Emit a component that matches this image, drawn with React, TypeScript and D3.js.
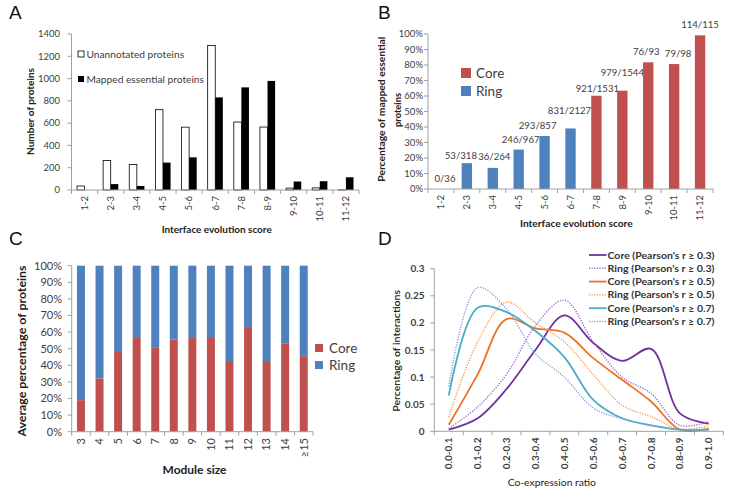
import React from "react";
import * as d3 from "d3";

// ---------- DATA ----------
const scoreCats = ["1-2", "2-3", "3-4", "4-5", "5-6", "6-7", "7-8", "8-9", "9-10", "10-11", "11-12"];
const unannotated = [36, 265, 228, 721, 564, 1296, 610, 565, 17, 19, 1];
const essentialMapped = [0, 53, 36, 246, 293, 831, 921, 979, 76, 79, 114];
const mappedTotal = [36, 318, 264, 967, 857, 2127, 1531, 1544, 93, 98, 115];
const scoreClass = ["Ring", "Ring", "Ring", "Ring", "Ring", "Ring", "Core", "Core", "Core", "Core", "Core"];
const aTicks = [0, 200, 400, 600, 800, 1000, 1200, 1400];
const pctTicks = [0, 0.1, 0.2, 0.3, 0.4, 0.5, 0.6, 0.7, 0.8, 0.9, 1];

const moduleSizes = ["3", "4", "5", "6", "7", "8", "9", "10", "11", "12", "13", "14", "≥15"];
const coreShare = [0.19, 0.32, 0.48, 0.57, 0.505, 0.555, 0.57, 0.57, 0.42, 0.625, 0.42, 0.53, 0.455];

const coexCats = ["0.0-0.1", "0.1-0.2", "0.2-0.3", "0.3-0.4", "0.4-0.5", "0.5-0.6", "0.6-0.7", "0.7-0.8", "0.8-0.9", "0.9-1.0"];
const core03 = [0.003, 0.024, 0.078, 0.15, 0.214, 0.163, 0.13, 0.152, 0.033, 0.014];
const ring03 = [0.005, 0.045, 0.105, 0.195, 0.242, 0.165, 0.1, 0.07, 0.011, 0.018];
const core05 = [0.012, 0.105, 0.207, 0.19, 0.182, 0.135, 0.095, 0.055, 0.003, 0.005];
const ring05 = [0.026, 0.165, 0.238, 0.2, 0.165, 0.105, 0.048, 0.027, 0.004, 0.01];
const core07 = [0.066, 0.228, 0.22, 0.185, 0.137, 0.058, 0.024, 0.011, 0.003, 0.003];
const ring07 = [0.083, 0.265, 0.226, 0.143, 0.1, 0.043, 0.023, 0.011, 0.003, 0.003];
const dTicks = [0, 0.05, 0.1, 0.15, 0.2, 0.25, 0.3];
const dSeriesNames = [
  "Core (Pearson's r ≥ 0.3)",
  "Ring (Pearson's r ≥ 0.3)",
  "Core (Pearson's r ≥ 0.5)",
  "Ring (Pearson's r ≥ 0.5)",
  "Core (Pearson's r ≥ 0.7)",
  "Ring (Pearson's r ≥ 0.7)",
];
const dSeries = [core03, ring03, core05, ring05, core07, ring07];

// ---------- STYLE ----------
const FONT = "Lato, 'Open Sans', sans-serif";
const TXT = "#404040";
const AX = "#A0A0A0";
const RED = "#C0504D";
const BLUE = "#4F81BD";
const dColors = ["#7030A0", "#9966CC", "#F07122", "#F79646", "#4BACC6", "#7F9FD0"];
const dDashed = [false, true, false, true, false, true];
// placement nudges of the B data labels (layout only)
const labelLift = [0, -3, 1, 0, 0, 7, -3, 8, 0, 0, 0];
const labelShift = [4, -6, 1.5, 2, -7, -1, 1, 0, -2, 4, 0];

const pctFmt = d3.format(".0%");

function YAxis({ scale, ticks, x, fmt, labelX, size, weight }: any) {
  const [r0, r1] = scale.range();
  return (
    <g>
      <line x1={x} x2={x} y1={r0} y2={r1} stroke={AX} strokeWidth={1} />
      {ticks.map((t: number) => (
        <g key={t}>
          <line x1={x - 4} x2={x} y1={scale(t)} y2={scale(t)} stroke={AX} />
          <text x={labelX} y={scale(t)} dy="0.35em" textAnchor="end" fontSize={size} fontWeight={weight || 400} fill={TXT}>
            {fmt(t)}
          </text>
        </g>
      ))}
    </g>
  );
}

function XAxisBand({ scale, y, labelY, size, weight }: any) {
  const [r0, r1] = scale.range();
  const bw = scale.step();
  const dom = scale.domain();
  return (
    <g>
      <line x1={r0} x2={r1} y1={y} y2={y} stroke={AX} />
      {d3.range(dom.length + 1).map((i) => (
        <line key={i} x1={r0 + i * bw} x2={r0 + i * bw} y1={y} y2={y + 4} stroke={AX} />
      ))}
      {dom.map((c: string) => {
        const cx = (scale(c) as number) + scale.bandwidth() / 2;
        return (
          <text key={c} transform={`translate(${cx},${labelY}) rotate(-90)`} dy="0.35em" textAnchor="end" fontSize={size} fontWeight={weight || 400} fill={TXT}>
            {c}
          </text>
        );
      })}
    </g>
  );
}

function Title({ x, y, rot, len, size, weight, children }: any) {
  return (
    <text
      transform={`translate(${x},${y})${rot ? " rotate(-90)" : ""}`}
      dy="0.35em"
      textAnchor="middle"
      fontSize={size}
      fontWeight={weight}
      fill="#222"
      textLength={len}
      lengthAdjust="spacingAndGlyphs"
    >
      {children}
    </text>
  );
}

function PanelA() {
  const y = d3.scaleLinear().domain([0, 1400]).range([190, 34]);
  const x = d3.scaleBand().domain(scoreCats).range([71.5, 359]);
  const bw = x.bandwidth() * 0.29;
  return (
    <g>
      {scoreCats.map((c, i) => {
        const cx = (x(c) as number) + x.bandwidth() / 2;
        return (
          <g key={c}>
            <rect x={cx - bw} y={y(unannotated[i])} width={bw} height={190 - y(unannotated[i])} fill="#fff" stroke="#000" strokeWidth={0.8} />
            {essentialMapped[i] > 0 && (
              <rect x={cx} y={y(essentialMapped[i])} width={bw} height={190 - y(essentialMapped[i])} fill="#000" />
            )}
          </g>
        );
      })}
      <YAxis scale={y} ticks={aTicks} x={71.5} fmt={(t: number) => String(t)} labelX={60} size={9.5} />
      <XAxisBand scale={x} y={190} labelY={196} size={9.5} />
      <rect x={78} y={51} width={6} height={6} fill="#fff" stroke="#000" strokeWidth={0.8} />
      <text x={86.5} y={54} dy="0.35em" fontSize={10.2} fill={TXT}>Unannotated proteins</text>
      <rect x={78} y={76} width={6} height={6} fill="#000" />
      <text x={86.5} y={79} dy="0.35em" fontSize={10.2} fill={TXT}>Mapped essential proteins</text>
      <Title x={30} y={111.5} rot len={87} size={10} weight={700}>Number of proteins</Title>
      <Title x={216.7} y={229} len={110} size={10} weight={700}>Interface evolution score</Title>
    </g>
  );
}

function PanelB() {
  const y = d3.scaleLinear().domain([0, 1]).range([189, 34]);
  const x = d3.scaleBand().domain(scoreCats).range([428, 713]);
  const bw = x.bandwidth() * 0.4;
  return (
    <g>
      {scoreCats.map((c, i) => {
        const cx = (x(c) as number) + x.bandwidth() / 2;
        const v = essentialMapped[i] / mappedTotal[i];
        return (
          <g key={c}>
            {v > 0 && <rect x={cx - bw / 2} y={y(v)} width={bw} height={189 - y(v)} fill={scoreClass[i] === "Core" ? RED : BLUE} />}
            <text x={cx + labelShift[i]} y={y(v) - 7 - labelLift[i]} textAnchor="middle" fontSize={9.6} fill={TXT}>
              {essentialMapped[i]}/{mappedTotal[i]}
            </text>
          </g>
        );
      })}
      <YAxis scale={y} ticks={pctTicks} x={428} fmt={pctFmt} labelX={423} size={9.5} />
      <XAxisBand scale={x} y={189} labelY={195} size={9.5} />
      <rect x={461} y={68} width={10} height={10} fill={RED} />
      <text x={476} y={73} dy="0.35em" fontSize={13.5} fill={TXT}>Core</text>
      <rect x={461} y={86} width={10} height={10} fill={BLUE} />
      <text x={476} y={91} dy="0.35em" fontSize={13.5} fill={TXT}>Ring</text>
      <Title x={381} y={109.2} rot len={145} size={10} weight={700}>Percentage of mapped essential</Title>
      <Title x={397} y={110} rot len={34} size={10} weight={700}>proteins</Title>
      <Title x={576.3} y={223} len={112.7} size={10} weight={700}>Interface evolution score</Title>
    </g>
  );
}

function PanelC() {
  const y = d3.scaleLinear().domain([0, 1]).range([431.7, 265.7]);
  const x = d3.scaleBand().domain(moduleSizes).range([71.7, 313]);
  const bw = x.bandwidth() * 0.43;
  return (
    <g>
      {moduleSizes.map((c, i) => {
        const cx = (x(c) as number) + x.bandwidth() / 2;
        return (
          <g key={c}>
            <rect x={cx - bw / 2} y={y(1)} width={bw} height={y(coreShare[i]) - y(1)} fill={BLUE} />
            <rect x={cx - bw / 2} y={y(coreShare[i])} width={bw} height={y(0) - y(coreShare[i])} fill={RED} />
          </g>
        );
      })}
      <YAxis scale={y} ticks={pctTicks} x={71.7} fmt={pctFmt} labelX={62} size={11} />
      <XAxisBand scale={x} y={431.7} labelY={438} size={11} />
      <rect x={315} y={344} width={8} height={8} fill={RED} />
      <text x={329} y={348.5} dy="0.35em" fontSize={13.5} fill={TXT}>Core</text>
      <rect x={315} y={361} width={8} height={8} fill={BLUE} />
      <text x={329} y={365.5} dy="0.35em" fontSize={13.5} fill={TXT}>Ring</text>
      <Title x={22} y={351} rot len={171} size={11.5} weight={700}>Average percentage of proteins</Title>
      <Title x={194.5} y={470} len={64} size={11.5} weight={700}>Module size</Title>
    </g>
  );
}

function PanelD() {
  const y = d3.scaleLinear().domain([0, 0.3]).range([431.3, 268.7]);
  const x = d3.scaleBand().domain(coexCats).range([434.3, 723.3]);
  const line = d3
    .line<number>()
    .x((_, i) => (x(coexCats[i]) as number) + x.bandwidth() / 2)
    .y((v) => y(v))
    .curve(d3.curveCatmullRom.alpha(0.5));
  const legY = [255, 268.3, 281.6, 294.9, 308.2, 321.5];
  return (
    <g>
      <YAxis scale={y} ticks={dTicks} x={434.3} fmt={(t: number) => String(+t.toFixed(2))} labelX={424.5} size={10} weight={700} />
      <XAxisBand scale={x} y={431.3} labelY={437.5} size={10} weight={700} />
      {dSeries.map((s, k) => (
        <path
          key={k}
          d={line(s) as string}
          fill="none"
          stroke={dColors[k]}
          strokeWidth={dDashed[k] ? 1.4 : 1.8}
          strokeDasharray={dDashed[k] ? "1.2,1.4" : undefined}
        />
      ))}
      {dSeriesNames.map((n, k) => (
        <g key={n}>
          <line x1={589} x2={606.5} y1={legY[k]} y2={legY[k]} stroke={dColors[k]} strokeWidth={dDashed[k] ? 1.4 : 1.8} strokeDasharray={dDashed[k] ? "1.2,1.4" : undefined} />
          <text x={607.5} y={legY[k]} dy="0.35em" fontSize={10} fontWeight={700} fill="#333" textLength={107} lengthAdjust="spacingAndGlyphs">
            {n}
          </text>
        </g>
      ))}
      <Title x={396} y={350.8} rot len={121.7} size={10} weight={600}>Percentage of interactions</Title>
      <Title x={551.8} y={482.5} len={88.3} size={10} weight={400}>Co-expression ratio</Title>
    </g>
  );
}

export default function App() {
  return (
    <svg width={733} height={499} style={{ position: "absolute", left: 0, top: 0, background: "#fff" }} fontFamily={FONT}>
      <rect width={733} height={499} fill="#fff" />
      <PanelA />
      <PanelB />
      <PanelC />
      <PanelD />
      <g fontFamily="'Liberation Sans', Arial, sans-serif" fontSize={19} fill="#111">
        <text x={9} y={18.5}>A</text>
        <text x={378} y={18.5}>B</text>
        <text x={9} y={245}>C</text>
        <text x={378} y={245}>D</text>
      </g>
    </svg>
  );
}
